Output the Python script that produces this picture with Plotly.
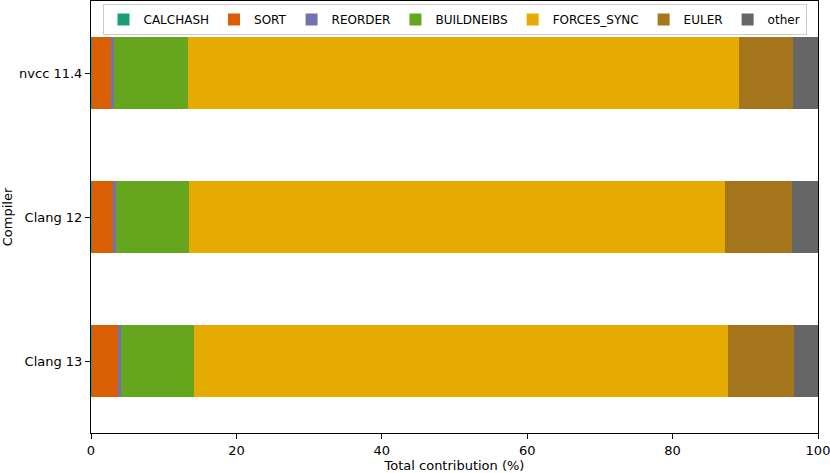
import plotly.graph_objects as go

compilers = ["Clang 13", "Clang 12", "nvcc 11.4"]
phases = ["CALCHASH", "SORT", "REORDER", "BUILDNEIBS", "FORCES_SYNC", "EULER", "other"]
colors = ["#1b9e77", "#d95f02", "#7570b3", "#66a61e", "#e6ab02", "#a6761d", "#666666"]

calchash = [0.15, 0.15, 0.15]
sort_ = [3.6, 2.9, 2.6]
reorder = [0.32, 0.37, 0.4]
buildneibs = [10.1, 10.1, 10.25]
forces_sync = [73.5, 73.7, 75.7]
euler = [9.0, 9.2, 7.5]
other = [3.33, 3.58, 3.4]

series = [calchash, sort_, reorder, buildneibs, forces_sync, euler, other]

fig = go.Figure()
for name, vals, col in zip(phases, series, colors):
    fig.add_trace(go.Bar(
        y=compilers, x=vals, name=name, orientation="h",
        marker=dict(color=col, line=dict(width=0)),
    ))

font = "DejaVu Sans"
fig.update_layout(
    width=830, height=473,
    barmode="stack", bargap=0.5,
    plot_bgcolor="white", paper_bgcolor="white",
    margin=dict(l=91, r=12, t=1, b=40),
    font=dict(family=font, size=13, color="black"),
    showlegend=True,
    legend=dict(
        orientation="h", x=0.5, xanchor="center", y=0.993, yanchor="top",
        bgcolor="rgba(255,255,255,0.85)", bordercolor="#cccccc", borderwidth=1,
        traceorder="normal", font=dict(family=font, size=12),
        itemwidth=30,
    ),
    xaxis=dict(
        range=[0, 100], tickvals=[0, 20, 40, 60, 80, 100],
        showgrid=False, zeroline=False, automargin=False,
        ticklabeloverflow="allow",
        showline=True, linecolor="black", linewidth=1, mirror=True,
        ticks="outside", ticklen=5, tickcolor="black",
        title=dict(text="Total contribution (%)", standoff=2, font=dict(size=13)),
        tickfont=dict(size=13),
    ),
    yaxis=dict(
        categoryorder="array", categoryarray=compilers,
        range=[-0.5, 2.5], automargin=False,
        showgrid=False, zeroline=False,
        showline=True, linecolor="black", linewidth=1, mirror=True,
        ticks="outside", ticklen=5, tickcolor="black",
        title=dict(text="Compiler", standoff=6, font=dict(size=13)),
        tickfont=dict(size=13),
    ),
)

fig.write_html(
    "out.html",
    config={"displayModeBar": False},
    post_script="document.body.style.margin='0';document.body.style.overflow='hidden';",
)
